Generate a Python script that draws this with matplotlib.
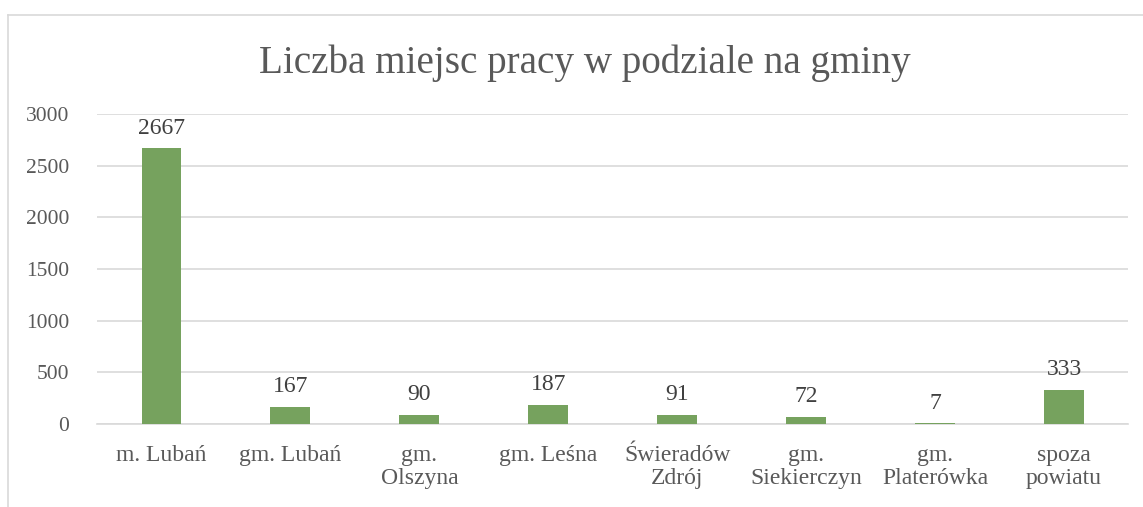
import numpy as np
import matplotlib.pyplot as plt
from matplotlib.lines import Line2D

# dane
categories = ["m. Lubań", "gm. Lubań", "gm.\nOlszyna", "gm. Leśna", "Świeradów\nZdrój",
              "gm.\nSiekierczyn", "gm.\nPlaterówka", "spoza\npowiatu"]
values = [2667, 167, 90, 187, 91, 72, 7, 333]
yticks = [0, 500, 1000, 1500, 2000, 2500, 3000]

plt.rcParams['font.family'] = ['Liberation Serif', 'DejaVu Serif']

fig = plt.figure(figsize=(11.43, 5.07), dpi=100)
ax = fig.add_axes([0.0849, 0.1637, 0.9024, 0.6114])

x = np.arange(len(categories))
bars = ax.bar(x, values, width=0.31, color="#76A25E", zorder=3)
for xi, v in zip(x, values):
    ax.text(xi, v + 90, str(v), ha="center", va="bottom", fontsize=17, color="#404040")

ax.set_xlim(-0.5, len(categories) - 0.5)
ax.set_ylim(0, 3000)
ax.set_yticks(yticks)
ax.set_yticklabels([str(t) for t in yticks], fontsize=15.5, color="#595959")
ax.set_xticks(x)
ax.set_xticklabels(categories, fontsize=17, color="#595959", linespacing=1.15, va="top")
ax.tick_params(axis="both", length=0)
ax.tick_params(axis="y", pad=20)
ax.tick_params(axis="x", pad=15)
ax.grid(axis="y", color="#D9D9D9", linewidth=1.2, zorder=0)
for s in ["top", "right", "left"]:
    ax.spines[s].set_visible(False)
ax.spines["bottom"].set_color("#D9D9D9")
ax.spines["bottom"].set_linewidth(1.2)

fig.text(0.512, 0.875, "Liczba miejsc pracy w podziale na gminy", ha="center", va="center",
         fontsize=28.2, color="#595959")

# ramka wykresu
fig.add_artist(Line2D([0.007, 1.0], [0.9704, 0.9704], transform=fig.transFigure, color="#D9D9D9", lw=1.2))
fig.add_artist(Line2D([0.007, 0.007], [0.0, 0.9704], transform=fig.transFigure, color="#D9D9D9", lw=1.2))

fig.savefig("out.png", dpi=100)
